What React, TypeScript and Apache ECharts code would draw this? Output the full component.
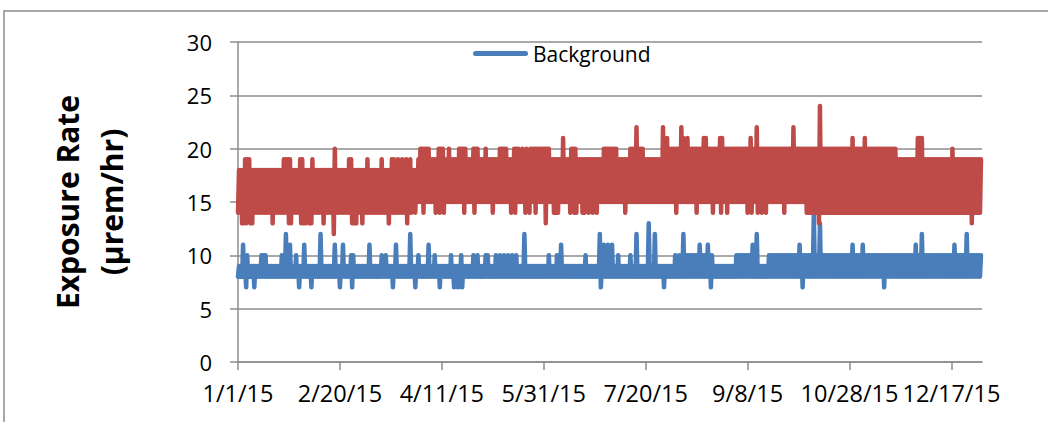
import React, { useEffect, useRef } from "react";
import * as echarts from "echarts";

// ---- Data (day index 0 = 1/1/15) ----
// Bands: [startDay, endDay, typical low, typical high] of the dense hourly trace
const redBands: number[][] = [
  [0, 86, 14, 18], [86, 88, 15, 18], [88, 145, 15, 19], [145, 153, 15, 20],
  [153, 163, 15, 19], [163, 166, 15, 20], [166, 179, 15, 19], [179, 186, 15, 20],
  [186, 192, 15, 19], [192, 199, 15, 20], [199, 211, 15, 19],
  [211, 280, 15, 20], [280, 323, 14, 20], [323, 365, 14, 19],
];
const blueBands: number[][] = [
  [0, 219, 8, 9], [219, 233, 8, 10], [233, 244, 8, 9], [244, 252, 8, 10],
  [252, 260, 8, 9], [260, 365, 8, 10],
];
// Spikes: [day, value]
const redUp: number[][] = [
  [3, 19], [4, 19], [5, 19], [22, 19], [23, 19], [24, 19], [25, 19], [30, 19], [31, 19],
  [36, 19], [47, 20], [54, 19], [55, 19], [63, 19], [70, 19], [75, 19], [76, 19], [78, 19],
  [80, 19], [82, 19], [84, 19],
  [89, 20], [90, 20], [91, 20], [92, 20], [93, 20], [98, 20], [99, 20], [100, 20], [103, 20],
  [108, 20], [109, 20], [110, 20], [111, 20], [115, 20], [116, 20], [117, 20], [121, 20],
  [128, 20], [129, 20], [130, 20], [131, 20], [135, 20], [136, 20], [137, 20], [139, 20],
  [141, 20], [143, 20], [144, 20],
  [159, 21], [195, 22], [208, 22], [210, 21], [217, 22], [218, 21],
  [220, 21], [228, 21], [229, 21], [236, 21], [237, 21], [251, 21], [254, 22], [272, 22], [285, 24],
  [301, 21], [307, 21], [333, 21], [334, 21], [335, 21], [350, 20],
];
const redDown: number[][] = [
  [2, 13], [3, 13], [4, 13], [6, 13], [7, 13], [17, 13], [25, 13], [26, 13], [31, 13], [32, 13],
  [33, 13], [35, 13], [36, 13], [42, 13], [47, 12], [56, 13], [57, 13], [58, 13], [61, 13],
  [74, 13], [83, 13],
  [87, 14], [91, 14], [97, 14], [99, 14], [101, 14], [111, 14], [116, 14], [125, 14], [134, 14],
  [136, 14], [141, 14], [143, 14], [146, 14], [151, 13], [155, 14], [156, 14], [157, 14],
  [163, 14], [165, 14], [166, 14], [169, 14], [170, 14], [172, 14], [174, 14], [176, 14],
  [190, 14], [215, 14], [225, 14], [233, 14], [237, 14], [240, 14], [250, 14], [252, 14],
  [255, 14], [257, 14], [259, 14], [268, 14], [279, 14], [285, 13], [360, 13],
];
const blueUp: number[][] = [
  [2, 11], [4, 10], [11, 10], [12, 10], [13, 10], [21, 10], [23, 12], [25, 11], [28, 10],
  [32, 11], [40, 12], [47, 11], [51, 11], [55, 10], [56, 10], [64, 11], [70, 10], [72, 10],
  [77, 11], [84, 12], [88, 10], [93, 11], [96, 10], [104, 10], [109, 10], [115, 10], [117, 10],
  [121, 10], [122, 10], [126, 10], [128, 10], [130, 10], [132, 10], [134, 10], [136, 10],
  [140, 12], [152, 10], [156, 10], [158, 11], [170, 10], [177, 12], [179, 11], [181, 11],
  [183, 11], [186, 10], [192, 10], [195, 12], [201, 13], [204, 12], [214, 10], [216, 10],
  [218, 12], [226, 11], [230, 11], [252, 11], [254, 12], [275, 11], [282, 14], [285, 13],
  [301, 11], [306, 11], [332, 11], [335, 12], [351, 11], [357, 12],
];
const blueDown: number[][] = [
  [4, 7], [8, 7], [30, 7], [36, 7], [50, 7], [56, 7], [76, 7], [87, 7], [99, 7], [106, 7],
  [108, 7], [110, 7], [178, 7], [209, 7], [232, 7], [277, 7], [317, 7],
];

const xTickDays = [0, 50, 100, 150, 200, 250, 300, 350];
const xTickLabels = ["1/1/15", "2/20/15", "4/11/15", "5/31/15", "7/20/15", "9/8/15", "10/28/15", "12/17/15"];

const BLUE = "#4A7EBB";
const RED = "#BE4B48";
const GRAY = "#8c8c8c";
const FONT = "Open Sans";
const CAPSULE = "path://M2.5 0 H52.5 A2.5 2.5 0 0 1 52.5 5 H2.5 A2.5 2.5 0 0 1 2.5 0 Z";

function buildTrace(bands: number[][], up: number[][], down: number[][]): number[][] {
  const lows = new Map<number, number>();
  const highs = new Map<number, number>();
  down.forEach(([d, v]) => lows.set(d, v));
  up.forEach(([d, v]) => highs.set(d, v));
  const pts: number[][] = [];
  bands.forEach(([s, e, lo, hi]) => {
    for (let d = s; d < e; d++) {
      pts.push([d, lows.has(d) ? (lows.get(d) as number) : lo]);
      pts.push([d + 0.5, highs.has(d) ? (highs.get(d) as number) : hi]);
    }
  });
  return pts;
}

export default function App() {
  const ref = useRef<HTMLDivElement>(null);
  useEffect(() => {
    if (!ref.current) return;
    const chart = echarts.init(ref.current, undefined, { renderer: "svg" });
    const blueData = buildTrace(blueBands, blueUp, blueDown);
    const redData = buildTrace(redBands, redUp, redDown);
    chart.setOption({
      animation: false,
      backgroundColor: "#ffffff",
      grid: { left: 238, right: 66, top: 42, bottom: 60 },
      legend: {
        data: [{ name: "Background", icon: CAPSULE }],
        left: 473,
        top: 43,
        padding: 0,
        itemWidth: 55,
        itemHeight: 5,
        itemStyle: { color: BLUE },
        textStyle: { fontFamily: FONT, fontSize: 21, color: "#000" },
      },
      graphic: [
        {
          type: "rect",
          shape: { x: 4, y: 11, width: 1200, height: 600 },
          style: { fill: "none", stroke: GRAY, lineWidth: 1.5 },
          silent: true,
        },
        {
          type: "text",
          x: 89,
          y: 202,
          rotation: Math.PI / 2,
          style: {
            text: "Exposure Rate\n(µrem/hr)",
            fontFamily: FONT,
            fontWeight: "bold",
            fontSize: 30,
            lineHeight: 44,
            align: "center",
            verticalAlign: "middle",
            fill: "#000",
          },
        },
      ],
      xAxis: {
        type: "value",
        min: 0,
        max: 365,
        interval: 50,
        axisLine: { show: true, lineStyle: { color: GRAY, width: 1.5 } },
        axisTick: { show: true, length: 8, lineStyle: { color: GRAY, width: 1.5 }, customValues: xTickDays },
        axisLabel: {
          customValues: xTickDays,
          margin: 19,
          fontFamily: FONT,
          fontSize: 23.5,
          color: "#000",
          formatter: (v: number) => {
            const i = xTickDays.indexOf(Math.round(v));
            return i >= 0 ? xTickLabels[i] : "";
          },
        },
        splitLine: { show: false },
      },
      yAxis: {
        type: "value",
        min: 0,
        max: 30,
        interval: 5,
        axisLine: { show: true, lineStyle: { color: GRAY, width: 1.5 } },
        axisTick: { show: true, length: 8, lineStyle: { color: GRAY, width: 1.5 } },
        axisLabel: { margin: 26, fontFamily: FONT, fontSize: 22, color: "#000" },
        splitLine: { show: true, lineStyle: { color: GRAY, width: 1.5 } },
      },
      series: [
        {
          name: "Background",
          type: "line",
          data: blueData,
          showSymbol: false,
          symbol: "none",
          color: BLUE,
          lineStyle: { color: BLUE, width: 4.5, cap: "round", join: "round" },
          silent: true,
        },
        {
          name: "Sample",
          type: "line",
          data: redData,
          showSymbol: false,
          symbol: "none",
          color: RED,
          lineStyle: { color: RED, width: 4.5, cap: "round", join: "round" },
          silent: true,
        },
      ],
    });
    return () => chart.dispose();
  }, []);
  return (
    <div
      ref={ref}
      style={{ position: "fixed", left: 0, top: 0, width: 1048, height: 422, background: "#fff" }}
    />
  );
}
